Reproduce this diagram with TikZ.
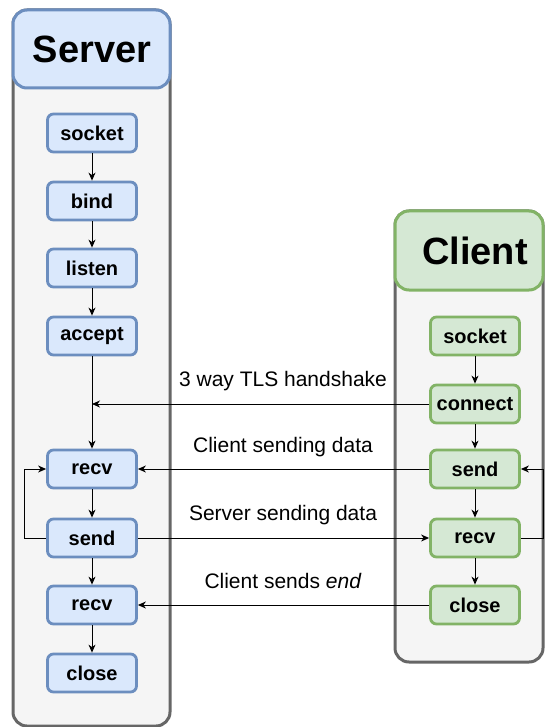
\documentclass[tikz,border=0pt]{standalone}
\usepackage{fontspec}
\setmainfont{Liberation Sans}
\usepackage{tikz}
\usetikzlibrary{arrows.meta}

\definecolor{srvfill}{HTML}{DAE8FC}
\definecolor{srvline}{HTML}{6C8EBF}
\definecolor{clifill}{HTML}{D5E8D4}
\definecolor{cliline}{HTML}{82B366}
\definecolor{lanefill}{HTML}{F5F5F5}
\definecolor{laneline}{HTML}{666666}

\begin{document}
\begin{tikzpicture}[x=1pt, y=-1pt,
        srvbox/.style={draw=srvline, fill=srvfill, line width=2.8pt, rounded corners=6pt,
                       minimum width=89pt, minimum height=38pt, inner sep=0pt,
                       font=\fontsize{20}{24}\selectfont\bfseries},
        clibox/.style={srvbox, draw=cliline, fill=clifill},
        msg/.style={font=\fontsize{21}{25}\selectfont},
        flow/.style={line width=1pt, -{Stealth[length=8pt, width=7pt, inset=2.5pt]}}]
                    \useasboundingbox (0,0) rectangle (544,727);

                    % lanes
                    \filldraw [fill=lanefill, draw=laneline, line width=3pt, rounded corners=14pt] ( 13, 10) rectangle (170,726);
                    \filldraw [fill=srvfill,  draw=srvline,  line width=3pt, rounded corners=14pt] ( 13, 10) rectangle (170, 88);
                    \filldraw [fill=lanefill, draw=laneline, line width=3pt, rounded corners=14pt] (395,211) rectangle (543,662);
                    \filldraw [fill=clifill,  draw=cliline,  line width=3pt, rounded corners=14pt] (395,211) rectangle (543,290);
                    \node [font=\fontsize{38}{42}\selectfont\bfseries] (srvtitle) at ( 92, 49) {Server};
                    \node [font=\fontsize{38}{42}\selectfont\bfseries] (clititle) at (475,251) {Client};

                    % server side
                    \node [srvbox] (ssocket) at ( 92,133) {socket};
                    \node [srvbox] (sbind)   at ( 92,201) {bind};
                    \node [srvbox] (slisten) at ( 92,268) {listen};
                    \node [srvbox] (saccept) at ( 92,336) {accept};
                    \node [srvbox] (srecv)   at ( 92,469) {recv};
                    \node [srvbox] (ssend)   at ( 92,538) {send};
                    \node [srvbox] (srecvb)  at ( 92,605) {recv};
                    \node [srvbox] (sclose)  at ( 92,673) {close};

                    % client side
                    \node [clibox] (csocket)  at (475,336) {socket};
                    \node [clibox] (cconnect) at (475,404) {connect};
                    \node [clibox] (csend)    at (475,469) {send};
                    \node [clibox] (crecv)    at (475,538) {recv};
                    \node [clibox] (cclose)   at (475,605) {close};

                    \coordinate (shake) at (92,404);

                    \draw [flow] (ssocket)  -- (sbind);
                    \draw [flow] (sbind)    -- (slisten);
                    \draw [flow] (slisten)  -- (saccept);
                    \draw [flow] (saccept)  -- (srecv);
                    \draw [flow] (srecv)    -- (ssend);
                    \draw [flow] (ssend)    -- (srecvb);
                    \draw [flow] (srecvb)   -- (sclose);
                    \draw [flow] (csocket)  -- (cconnect);
                    \draw [flow] (cconnect) -- (csend);
                    \draw [flow] (csend)    -- (crecv);
                    \draw [flow] (crecv)    -- (cclose);

                    \draw [flow] (ssend.west) -- (24,538) -- (24,469) -- (srecv.west);
                    \draw [flow] (crecv.east) -- (543,538) -- (543,469) -- (csend.east);

                    \draw [flow] (cconnect.west) -- (shake);
                    \draw [flow] (csend.west)    -- (srecv.east);
                    \draw [flow] (ssend.east)    -- (crecv.west);
                    \draw [flow] (cclose.west)   -- (srecvb.east);

                    \node [msg] (lshake) at (283,381) {3 way TLS handshake};
                    \node [msg] (lcsend) at (283,447) {Client sending data};
                    \node [msg] (lssend) at (283,515) {Server sending data};
                    \node [msg] (lcend)  at (283,581) {Client sends \textit{end}};
\end{tikzpicture}
\end{document}
